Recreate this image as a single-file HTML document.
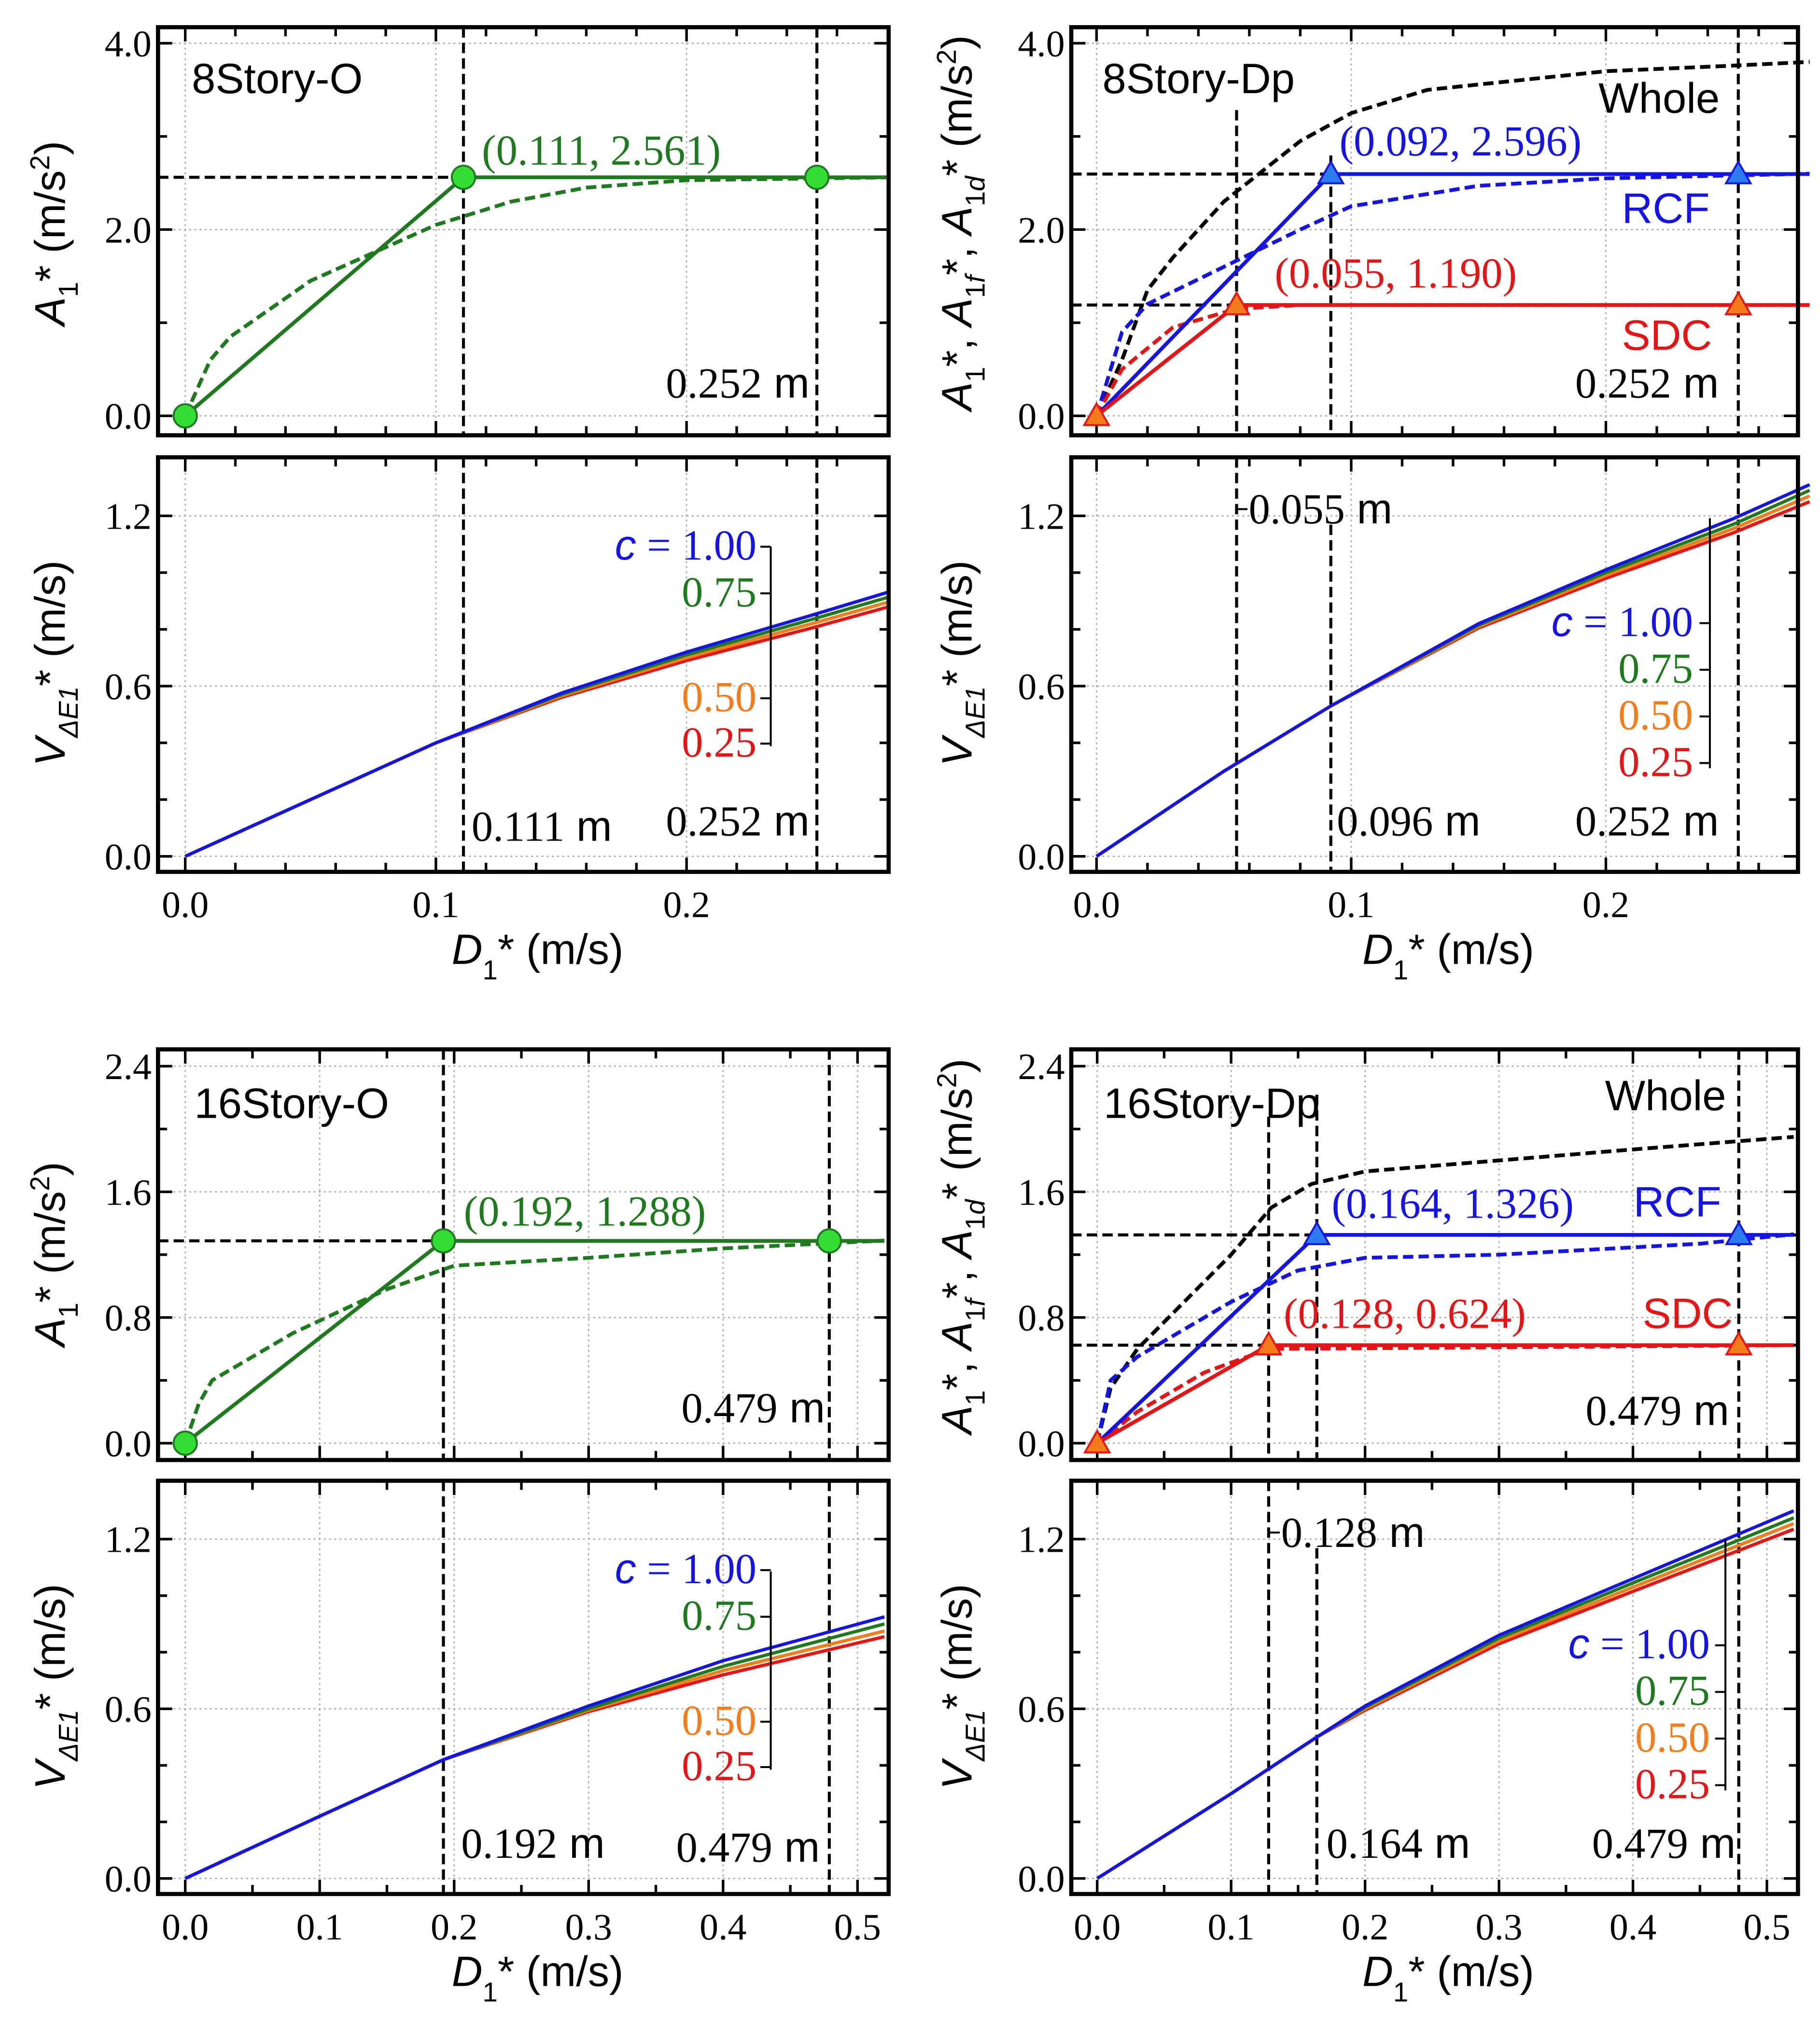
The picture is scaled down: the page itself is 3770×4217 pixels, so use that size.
<!DOCTYPE html>
<html><head><meta charset="utf-8"><style>
html,body{margin:0;padding:0;background:#fff;}
svg{display:block;}
</style></head><body>
<svg id="fig" xmlns="http://www.w3.org/2000/svg" width="3770" height="4217" viewBox="0 0 1405 1571.6" preserveAspectRatio="none"></svg>
<script>
// ---------- data ----------
// 8Story-O (top-left)
const tlDashX=[0,0.01,0.018,0.05,0.1,0.13,0.16,0.2,0.28];
const tlDashY=[0,0.6,0.85,1.45,2.05,2.3,2.45,2.53,2.56];
const tlSolidX=[0,0.111,0.252,0.28];
const tlSolidY=[0,2.561,2.561,2.561];
const tlMarkX=[0,0.111,0.252];
const tlMarkY=[0,2.561,2.561];
const tlVX=[0,0.05,0.1,0.15,0.2,0.25,0.28];
const tlV100=[0,0.2,0.4,0.575,0.72,0.85,0.93];
const tlV075=[0,0.2,0.4,0.57,0.71,0.835,0.912];
const tlV050=[0,0.2,0.4,0.565,0.7,0.82,0.895];
const tlV025=[0,0.2,0.4,0.56,0.69,0.805,0.878];
// 8Story-Dp (top-right)
const trWholeX=[0,0.01,0.02,0.03,0.05,0.08,0.1,0.13,0.2,0.25,0.28];
const trWholeY=[0,0.6,1.35,1.7,2.3,2.95,3.25,3.5,3.7,3.76,3.8];
const trRcfDashX=[0,0.01,0.02,0.05,0.08,0.1,0.15,0.2,0.28];
const trRcfDashY=[0,0.9,1.2,1.6,2.0,2.25,2.47,2.55,2.6];
const trRcfX=[0,0.092,0.252,0.28];
const trRcfY=[0,2.596,2.596,2.596];
const trSdcDashX=[0,0.01,0.03,0.055,0.08,0.28];
const trSdcDashY=[0,0.5,0.95,1.15,1.19,1.19];
const trSdcX=[0,0.055,0.252,0.28];
const trSdcY=[0,1.19,1.19,1.19];
const trVX=[0,0.05,0.092,0.15,0.2,0.25,0.28];
const trV100=[0,0.3,0.53,0.82,1.01,1.19,1.31];
const trV075=[0,0.3,0.53,0.815,1.0,1.17,1.29];
const trV050=[0,0.3,0.53,0.81,0.99,1.155,1.27];
const trV025=[0,0.3,0.53,0.805,0.98,1.14,1.25];
// 16Story-O (bottom-left)
const blDashX=[0,0.01,0.02,0.08,0.15,0.2,0.3,0.4,0.52];
const blDashY=[0,0.25,0.4,0.7,0.98,1.13,1.18,1.24,1.29];
const blSolidX=[0,0.192,0.479,0.52];
const blSolidY=[0,1.288,1.288,1.288];
const blMarkX=[0,0.192,0.479];
const blMarkY=[0,1.288,1.288];
const blVX=[0,0.1,0.192,0.3,0.4,0.52];
const blV100=[0,0.22,0.42,0.61,0.77,0.925];
const blV075=[0,0.22,0.42,0.6,0.75,0.9];
const blV050=[0,0.22,0.42,0.595,0.735,0.875];
const blV025=[0,0.22,0.42,0.59,0.72,0.855];
// 16Story-Dp (bottom-right)
const brWholeX=[0,0.01,0.03,0.1,0.13,0.16,0.2,0.3,0.4,0.52];
const brWholeY=[0,0.35,0.6,1.2,1.5,1.65,1.73,1.8,1.87,1.95];
const brRcfDashX=[0,0.01,0.03,0.1,0.15,0.2,0.3,0.45,0.52];
const brRcfDashY=[0,0.4,0.55,0.9,1.1,1.18,1.2,1.27,1.33];
const brRcfX=[0,0.164,0.479,0.52];
const brRcfY=[0,1.326,1.326,1.326];
const brSdcDashX=[0,0.03,0.08,0.128,0.52];
const brSdcDashY=[0,0.2,0.45,0.6,0.624];
const brSdcX=[0,0.128,0.479,0.52];
const brSdcY=[0,0.624,0.624,0.624];
const brVX=[0,0.1,0.164,0.2,0.3,0.4,0.52];
const brV100=[0,0.3,0.5,0.61,0.86,1.06,1.3];
const brV075=[0,0.3,0.5,0.605,0.85,1.045,1.275];
const brV050=[0,0.3,0.5,0.6,0.84,1.03,1.255];
const brV025=[0,0.3,0.5,0.595,0.83,1.015,1.235];

// ---------- drawing ----------
const NS='http://www.w3.org/2000/svg';
const svg=document.getElementById('fig');
function el(tag,parent){const e=document.createElementNS(NS,tag);(parent||svg).appendChild(e);return e;}
const GREEN='#1f7a1f',BLUE='#1414e6',RED='#e61414',ORANGE='#f57c1a',LGREEN='#33dd33';
const FS=33;

function makePanel(p){
  const g=el('g');
  
  
  p.X=v=>p.xo+v*p.xs; p.Y=v=>p.yo-v*p.ys;
  for(let v=0;p.X(v)<p.R-2;v=+(v+p.xMaj).toFixed(4)){
    const l=el('line',g);l.setAttribute('x1',p.X(v));l.setAttribute('x2',p.X(v));l.setAttribute('y1',p.T);l.setAttribute('y2',p.B);
    l.setAttribute('stroke','#aaa');l.setAttribute('stroke-width','1');l.setAttribute('stroke-dasharray','1.5,2.5');
    
    
  }
  for(let v=0;p.Y(v)>p.T+2;v=+(v+p.yMaj).toFixed(4)){
    const l=el('line',g);l.setAttribute('x1',p.L);l.setAttribute('x2',p.R);l.setAttribute('y1',p.Y(v));l.setAttribute('y2',p.Y(v));
    l.setAttribute('stroke','#aaa');l.setAttribute('stroke-width','1');l.setAttribute('stroke-dasharray','1.5,2.5');
    
    
  }
  for(let v=0;p.X(v)<p.R-2;v=+(v+p.xMin).toFixed(4)){
    const maj=Math.abs(v/p.xMaj-Math.round(v/p.xMaj))<1e-6, len=maj?11:7, x=p.X(v);
    [[p.B,p.B-len],[p.T,p.T+len]].forEach(([a,b])=>{const t=el('line',g);t.setAttribute('x1',x);t.setAttribute('x2',x);t.setAttribute('y1',a);t.setAttribute('y2',b);t.setAttribute('stroke','#000');t.setAttribute('stroke-width','2');
      
      });
    if(maj&&p.xLabels){const t=el('text',g);t.textContent=v.toFixed(1);t.setAttribute('x',x);t.setAttribute('y',p.B+35);t.setAttribute('text-anchor','middle');t.setAttribute('font-family','Liberation Serif, serif');t.setAttribute('font-size','29');
      
      }
  }
  for(let v=0;p.Y(v)>p.T+2;v=+(v+p.yMin).toFixed(4)){
    const maj=Math.abs(v/p.yMaj-Math.round(v/p.yMaj))<1e-6, len=maj?11:7, y=p.Y(v);
    [[p.L,p.L+len],[p.R,p.R-len]].forEach(([a,b])=>{const t=el('line',g);t.setAttribute('x1',a);t.setAttribute('x2',b);t.setAttribute('y1',y);t.setAttribute('y2',y);t.setAttribute('stroke','#000');t.setAttribute('stroke-width','2');
      
      });
    if(maj){const t=el('text',g);t.textContent=v.toFixed(1);t.setAttribute('x',p.L-5);t.setAttribute('y',y+10);t.setAttribute('text-anchor','end');t.setAttribute('font-family','Liberation Serif, serif');t.setAttribute('font-size','29');
      
      }
  }
  p.g=g;return p;
}
function frame(p){
  const r=el('rect',p.g);r.setAttribute('x',p.L);r.setAttribute('y',p.T);r.setAttribute('width',p.R-p.L);r.setAttribute('height',p.B-p.T);
  r.setAttribute('fill','none');r.setAttribute('stroke','#000');r.setAttribute('stroke-width','3.2');
  
  
}
function series(p,xs,ys,color,dash,name,w){
  const l=el('polyline',p.g);
  l.setAttribute('points',xs.map((x,i)=>p.X(x)+','+p.Y(ys[i])).join(' '));
  l.setAttribute('fill','none');l.setAttribute('stroke',color);l.setAttribute('stroke-width',w||2.9);
  l.setAttribute('stroke-linejoin','round');
  if(dash)l.setAttribute('stroke-dasharray','8,4');
  
  
}
function vref(p,v,name,y1){
  const l=el('line',p.g);l.setAttribute('x1',p.X(v));l.setAttribute('x2',p.X(v));l.setAttribute('y1',y1||p.T);l.setAttribute('y2',p.B);
  l.setAttribute('stroke','#000');l.setAttribute('stroke-width','2.3');l.setAttribute('stroke-dasharray','8,4');
  
  
}
function href(p,v,name){
  const l=el('line',p.g);l.setAttribute('x1',p.L);l.setAttribute('x2',p.R);l.setAttribute('y1',p.Y(v));l.setAttribute('y2',p.Y(v));
  l.setAttribute('stroke','#000');l.setAttribute('stroke-width','2.3');l.setAttribute('stroke-dasharray','8,4');
  
  
}
function circles(p,xs,ys){
  xs.forEach((x,i)=>{const c=el('circle',p.g);c.setAttribute('cx',p.X(x));c.setAttribute('cy',p.Y(ys[i]));c.setAttribute('r',9);
    c.setAttribute('fill',LGREEN);c.setAttribute('stroke',GREEN);c.setAttribute('stroke-width','1.5');
    
    });
}
function tri(p,x,y,fill,stroke){
  const cx=p.X(x),cy=p.Y(y),s=9.5;
  const t=el('polygon',p.g);t.setAttribute('points',`${cx},${cy-s} ${cx-s},${cy+s*0.75} ${cx+s},${cy+s*0.75}`);
  t.setAttribute('fill',fill);t.setAttribute('stroke',stroke);t.setAttribute('stroke-width','1.5');
  
  
}
function txt(p,s,x,y,opt){
  const t=el('text',p?p.g:svg);t.innerHTML=s;t.setAttribute('x',x);t.setAttribute('y',y);
  t.setAttribute('font-family',(opt&&opt.serif)?'Liberation Serif, serif':'Liberation Sans, sans-serif');
  t.setAttribute('font-size',(opt&&opt.size)||FS);t.setAttribute('fill',(opt&&opt.color)||'#000');
  if(opt&&opt.anchor)t.setAttribute('text-anchor',opt.anchor);
  if(opt&&opt.rot)t.setAttribute('transform',`rotate(-90 ${x} ${y})`);
  
  
  return t;
}
function mlabel(p,num,x,y,name){
  txt(p,`<tspan font-family="Liberation Serif, serif">${num}</tspan> m`,x,y,{name:name});
}
function legend(p,x,ys,bx,by1,by2){
  txt(p,'<tspan font-style="italic" font-family="Liberation Sans, sans-serif">c</tspan> = 1.00',x,ys[0],{serif:true,color:BLUE,anchor:'end',name:'legend-c100'});
  txt(p,'0.75',x,ys[1],{serif:true,color:GREEN,anchor:'end',name:'legend-c075'});
  txt(p,'0.50',x,ys[2],{serif:true,color:ORANGE,anchor:'end',name:'legend-c050'});
  txt(p,'0.25',x,ys[3],{serif:true,color:RED,anchor:'end',name:'legend-c025'});
  const b=el('path',p.g);
  let d=`M${bx},${by1} V${by2}`;
  ys.forEach(y=>{d+=` M${bx-8},${y-10} H${bx}`;});
  b.setAttribute('d',d);b.setAttribute('stroke','#000');b.setAttribute('stroke-width','1.5');b.setAttribute('fill','none');
  
  
}
function vSeries(p,xs,a,b,c,d){
  series(p,xs,d,RED,false,'series-c025',2.5);
  series(p,xs,c,ORANGE,false,'series-c050',2.5);
  series(p,xs,b,GREEN,false,'series-c075',2.5);
  series(p,xs,a,BLUE,false,'series-c100',2.5);
}

// ===== panels =====
const tlA=makePanel({name:'panel-8story-o-accel',L:122,R:686,T:21,B:336,xo:143,xs:1935,yo:321,ys:71.9,xMaj:0.1,xMin:0.02,yMaj:2,yMin:1,xLabels:false});
const tlV=makePanel({name:'panel-8story-o-velocity',L:122,R:686,T:353,B:673,xo:143,xs:1935,yo:661,ys:219,xMaj:0.1,xMin:0.02,yMaj:0.6,yMin:0.2,xLabels:true});
const trA=makePanel({name:'panel-8story-dp-accel',L:827,R:1388,T:21,B:336,xo:846.5,xs:1966,yo:321,ys:71.9,xMaj:0.1,xMin:0.02,yMaj:2,yMin:1,xLabels:false});
const trV=makePanel({name:'panel-8story-dp-velocity',L:827,R:1388,T:353,B:673,xo:846.5,xs:1966,yo:661,ys:219,xMaj:0.1,xMin:0.02,yMaj:0.6,yMin:0.2,xLabels:true});
const blA=makePanel({name:'panel-16story-o-accel',L:122,R:686,T:810,B:1127,xo:143,xs:1038,yo:1114,ys:121.25,xMaj:0.1,xMin:0.05,yMaj:0.8,yMin:0.4,xLabels:false});
const blV=makePanel({name:'panel-16story-o-velocity',L:122,R:686,T:1143,B:1462,xo:143,xs:1038,yo:1450,ys:218.3,xMaj:0.1,xMin:0.05,yMaj:0.6,yMin:0.2,xLabels:true});
const brA=makePanel({name:'panel-16story-dp-accel',L:827,R:1388,T:810,B:1127,xo:847,xs:1034,yo:1114,ys:121.25,xMaj:0.1,xMin:0.05,yMaj:0.8,yMin:0.4,xLabels:false});
const brV=makePanel({name:'panel-16story-dp-velocity',L:827,R:1388,T:1143,B:1462,xo:847,xs:1034,yo:1450,ys:218.3,xMaj:0.1,xMin:0.05,yMaj:0.6,yMin:0.2,xLabels:true});

// --- 8Story-O ---
href(tlA,2.561,'ref-line-2561');
vref(tlA,0.111,'ref-line-0111');vref(tlA,0.252,'ref-line-0252');
series(tlA,tlDashX,tlDashY,GREEN,true,'capacity-curve');
series(tlA,tlSolidX,tlSolidY,GREEN,false,'bilinear-curve');
circles(tlA,tlMarkX,tlMarkY);
txt(tlA,'8Story-O',148,72,{name:'panel-title'});
txt(tlA,'(0.111, 2.561)',372,127,{serif:true,color:GREEN,name:'yield-point-label'});
mlabel(tlA,'0.252',514,307,'disp-label-0252');
frame(tlA);
vref(tlV,0.111,'ref-line-0111');vref(tlV,0.252,'ref-line-0252');
vSeries(tlV,tlVX,tlV100,tlV075,tlV050,tlV025);
legend(tlV,584,[432,468,549,584],595,422,576);
mlabel(tlV,'0.111',364,649,'disp-label-0111');
mlabel(tlV,'0.252',514,645,'disp-label-0252');
frame(tlV);

// --- 8Story-Dp ---
href(trA,2.596,'ref-line-2596');href(trA,1.19,'ref-line-1190');
vref(trA,0.055,'ref-line-0055',85);vref(trA,0.092,'ref-line-0092',120);vref(trA,0.252,'ref-line-0252');
series(trA,trWholeX,trWholeY,'#000',true,'whole-curve');
series(trA,trRcfDashX,trRcfDashY,BLUE,true,'rcf-curve');
series(trA,trSdcDashX,trSdcDashY,RED,true,'sdc-curve');
series(trA,trRcfX,trRcfY,BLUE,false,'rcf-bilinear');
series(trA,trSdcX,trSdcY,RED,false,'sdc-bilinear');
tri(trA,0.092,2.596,'#2e7df0',BLUE);tri(trA,0.252,2.596,'#2e7df0',BLUE);
tri(trA,0,0,ORANGE,RED);tri(trA,0.055,1.19,ORANGE,RED);tri(trA,0.252,1.19,ORANGE,RED);
txt(trA,'8Story-Dp',851,72,{name:'panel-title'});
txt(trA,'Whole',1234,87,{name:'whole-label'});
txt(trA,'(0.092, 2.596)',1034,120,{serif:true,color:BLUE,name:'rcf-yield-label'});
txt(trA,'RCF',1252,172,{color:BLUE,name:'rcf-label'});
txt(trA,'(0.055, 1.190)',984,222,{serif:true,color:RED,name:'sdc-yield-label'});
txt(trA,'SDC',1252,270,{color:RED,name:'sdc-label'});
mlabel(trA,'0.252',1216,307,'disp-label-0252');
frame(trA);
vref(trV,0.055,'ref-line-0055');vref(trV,0.092,'ref-line-0092',405);vref(trV,0.252,'ref-line-0252');
vSeries(trV,trVX,trV100,trV075,trV050,trV025);
legend(trV,1307,[491,527,563,599],1320,400,593);
const t1=el('line',trV.g);t1.setAttribute('x1',955);t1.setAttribute('x2',963);t1.setAttribute('y1',393);t1.setAttribute('y2',393);t1.setAttribute('stroke','#000');t1.setAttribute('stroke-width','1.5');


mlabel(trV,'0.055',964,404,'disp-label-0055');
mlabel(trV,'0.096',1032,645,'disp-label-0096');
mlabel(trV,'0.252',1216,645,'disp-label-0252');
frame(trV);

// --- 16Story-O ---
href(blA,1.288,'ref-line-1288');
vref(blA,0.192,'ref-line-0192');vref(blA,0.479,'ref-line-0479');
series(blA,blDashX,blDashY,GREEN,true,'capacity-curve');
series(blA,blSolidX,blSolidY,GREEN,false,'bilinear-curve');
circles(blA,blMarkX,blMarkY);
txt(blA,'16Story-O',150,863,{name:'panel-title'});
txt(blA,'(0.192, 1.288)',358,946,{serif:true,color:GREEN,name:'yield-point-label'});
mlabel(blA,'0.479',526,1098,'disp-label-0479');
frame(blA);
vref(blV,0.192,'ref-line-0192');vref(blV,0.479,'ref-line-0479');
vSeries(blV,blVX,blV100,blV075,blV050,blV025);
legend(blV,584,[1222,1258,1339,1374],595,1213,1366);
mlabel(blV,'0.192',356,1434,'disp-label-0192');
mlabel(blV,'0.479',522,1437,'disp-label-0479');
frame(blV);

// --- 16Story-Dp ---
href(brA,1.326,'ref-line-1326');href(brA,0.624,'ref-line-0624');
vref(brA,0.128,'ref-line-0128',862);vref(brA,0.164,'ref-line-0164',845);vref(brA,0.479,'ref-line-0479');
series(brA,brWholeX,brWholeY,'#000',true,'whole-curve');
series(brA,brRcfDashX,brRcfDashY,BLUE,true,'rcf-curve');
series(brA,brSdcDashX,brSdcDashY,RED,true,'sdc-curve');
series(brA,brRcfX,brRcfY,BLUE,false,'rcf-bilinear');
series(brA,brSdcX,brSdcY,RED,false,'sdc-bilinear');
tri(brA,0.164,1.326,'#2e7df0',BLUE);tri(brA,0.479,1.326,'#2e7df0',BLUE);
tri(brA,0,0,ORANGE,RED);tri(brA,0.128,0.624,ORANGE,RED);tri(brA,0.479,0.624,ORANGE,RED);
txt(brA,'16Story-Dp',852,863,{name:'panel-title'});
txt(brA,'Whole',1239,857,{name:'whole-label'});
txt(brA,'(0.164, 1.326)',1028,940,{serif:true,color:BLUE,name:'rcf-yield-label'});
txt(brA,'RCF',1261,939,{color:BLUE,name:'rcf-label'});
txt(brA,'(0.128, 0.624)',991,1025,{serif:true,color:RED,name:'sdc-yield-label'});
txt(brA,'SDC',1268,1025,{color:RED,name:'sdc-label'});
mlabel(brA,'0.479',1224,1100,'disp-label-0479');
frame(brA);
vref(brV,0.128,'ref-line-0128');vref(brV,0.164,'ref-line-0164',1195);vref(brV,0.479,'ref-line-0479');
vSeries(brV,brVX,brV100,brV075,brV050,brV025);
legend(brV,1320,[1280,1316,1352,1388],1332,1188,1382);
const t2=el('line',brV.g);t2.setAttribute('x1',980);t2.setAttribute('x2',988);t2.setAttribute('y1',1183);t2.setAttribute('y2',1183);t2.setAttribute('stroke','#000');t2.setAttribute('stroke-width','1.5');


mlabel(brV,'0.128',989,1194,'disp-label-0128');
mlabel(brV,'0.164',1024,1434,'disp-label-0164');
mlabel(brV,'0.479',1229,1434,'disp-label-0479');
frame(brV);

// ===== axis titles =====
const xt='<tspan font-style="italic">D</tspan><tspan font-size="21" dy="12">1</tspan><tspan dy="-12">*</tspan> (m/s)';
txt(null,xt,415,744,{anchor:'middle',size:33,name:'x-axis-title'});
txt(null,xt,1118,744,{anchor:'middle',size:33,name:'x-axis-title'});
txt(null,xt,415,1533,{anchor:'middle',size:33,name:'x-axis-title'});
txt(null,xt,1118,1533,{anchor:'middle',size:33,name:'x-axis-title'});
const ya='<tspan font-style="italic">A</tspan><tspan font-size="21" dy="10">1</tspan><tspan dy="-10">*</tspan> (m/s<tspan font-size="21" dy="-12">2</tspan><tspan dy="12">)</tspan>';
const yv='<tspan font-style="italic">V</tspan><tspan font-size="21" dy="10" font-style="italic">ΔE1</tspan><tspan dy="-10">*</tspan> (m/s)';
const yd='<tspan font-style="italic">A</tspan><tspan font-size="21" dy="10">1</tspan><tspan dy="-10">*</tspan>, <tspan font-style="italic">A</tspan><tspan font-size="21" dy="10">1<tspan font-style="italic">f</tspan></tspan><tspan dy="-10">*</tspan>, <tspan font-style="italic">A</tspan><tspan font-size="21" dy="10">1<tspan font-style="italic">d</tspan></tspan><tspan dy="-10">*</tspan> (m/s<tspan font-size="21" dy="-12">2</tspan><tspan dy="12">)</tspan>';
txt(null,ya,50,180,{anchor:'middle',size:33,rot:true,name:'y-axis-title'});
txt(null,yv,50,512,{anchor:'middle',size:33,rot:true,name:'y-axis-title'});
txt(null,yd,750,172,{anchor:'middle',size:33,rot:true,name:'y-axis-title'});
txt(null,yv,750,512,{anchor:'middle',size:33,rot:true,name:'y-axis-title'});
txt(null,ya,50,968,{anchor:'middle',size:33,rot:true,name:'y-axis-title'});
txt(null,yv,50,1302,{anchor:'middle',size:33,rot:true,name:'y-axis-title'});
txt(null,yd,750,962,{anchor:'middle',size:33,rot:true,name:'y-axis-title'});
txt(null,yv,750,1302,{anchor:'middle',size:33,rot:true,name:'y-axis-title'});
</script>
</body></html>
